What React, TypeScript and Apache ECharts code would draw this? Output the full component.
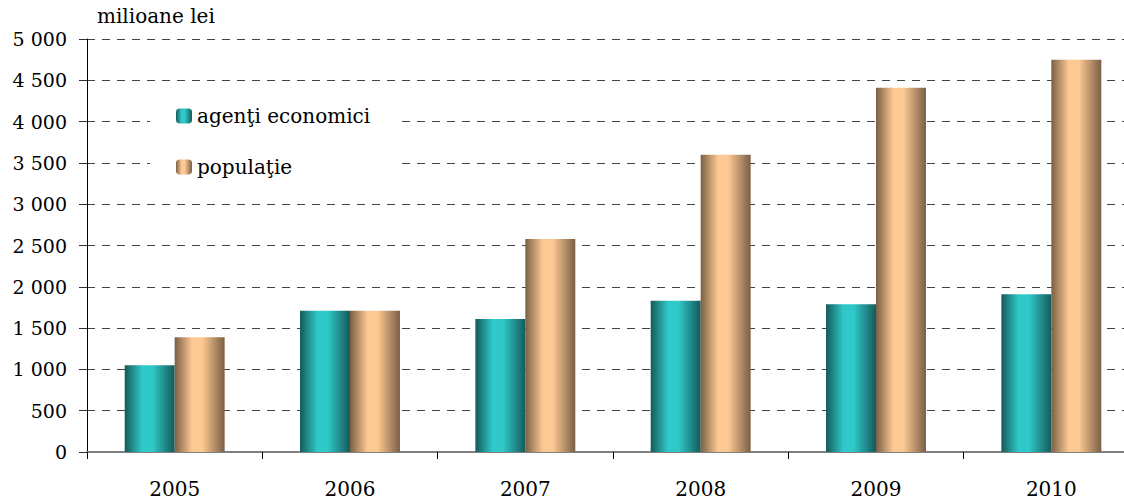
import React, { useEffect, useRef } from "react";
import * as echarts from "echarts";

const categories = ["2005", "2006", "2007", "2008", "2009", "2010"];
const agentiEconomici = [1050, 1710, 1610, 1830, 1790, 1910];
const populatie = [1390, 1710, 2580, 3600, 4410, 4750];
const seriesNames = ["agenţi economici", "populaţie"];
const unitLabel = "milioane lei";

const FONT = "DejaVu Serif";

function grad(dark: string, light: string) {
  return new echarts.graphic.LinearGradient(0, 0, 1, 0, [
    { offset: 0, color: dark },
    { offset: 0.35, color: light },
    { offset: 0.55, color: light },
    { offset: 1, color: dark },
  ]);
}

export default function App() {
  const ref = useRef<HTMLDivElement>(null);
  useEffect(() => {
    if (!ref.current) return;
    const chart = echarts.init(ref.current, null, { renderer: "svg" });
    const fmt = (v: number) =>
      String(v).replace(/\B(?=(\d{3})+(?!\d))/g, " ");
    chart.setOption({
      animation: false,
      backgroundColor: "#ffffff",
      textStyle: { fontFamily: FONT, fontSize: 20 },
      grid: { left: 87, top: 39, bottom: 48, right: 0 },
      legend: {
        orient: "vertical",
        left: 150,
        top: 89,
        padding: [17, 26, 15, 26],
        backgroundColor: "#ffffff",
        itemWidth: 16,
        itemHeight: 15,
        itemGap: 31,
        textStyle: { fontFamily: FONT, fontSize: 20, color: "#000" },
        data: seriesNames,
      },
      graphic: [
        {
          type: "text",
          left: 97,
          top: 6,
          style: {
            text: unitLabel,
            fontFamily: FONT,
            fontSize: 20,
            fill: "#000",
          },
        },
      ],
      xAxis: {
        type: "category",
        data: categories,
        axisLine: { lineStyle: { color: "#808080", width: 2 } },
        axisTick: {
          show: true,
          interval: 0,
          length: 7,
          lineStyle: { color: "#000", width: 1 },
        },
        axisLabel: {
          fontFamily: FONT,
          fontSize: 20,
          color: "#000",
          margin: 27,
        },
      },
      yAxis: {
        type: "value",
        min: 0,
        max: 5000,
        interval: 500,
        axisLine: { show: true, lineStyle: { color: "#000", width: 1 } },
        axisTick: { show: true, length: 8, lineStyle: { color: "#333" } },
        axisLabel: {
          fontFamily: FONT,
          fontSize: 19,
          color: "#000",
          margin: 20,
          formatter: fmt,
        },
        splitLine: {
          show: true,
          lineStyle: { color: "#444", type: [8, 7], width: 1 },
        },
      },
      series: [
        {
          name: seriesNames[0],
          type: "bar",
          data: agentiEconomici,
          barGap: "0%",
          barCategoryGap: "43%",
          itemStyle: { color: grad("#155a5a", "#30c9c9") },
        },
        {
          name: seriesNames[1],
          type: "bar",
          data: populatie,
          barGap: "0%",
          barCategoryGap: "43%",
          itemStyle: { color: grad("#7a5f45", "#fdc992") },
        },
      ],
    });
    return () => chart.dispose();
  }, []);
  return (
    <div
      style={{
        position: "absolute",
        left: 0,
        top: 0,
        width: 1124,
        height: 500,
        overflow: "hidden",
      }}
    >
      <div ref={ref} style={{ width: 1139, height: 500 }} />
    </div>
  );
}
